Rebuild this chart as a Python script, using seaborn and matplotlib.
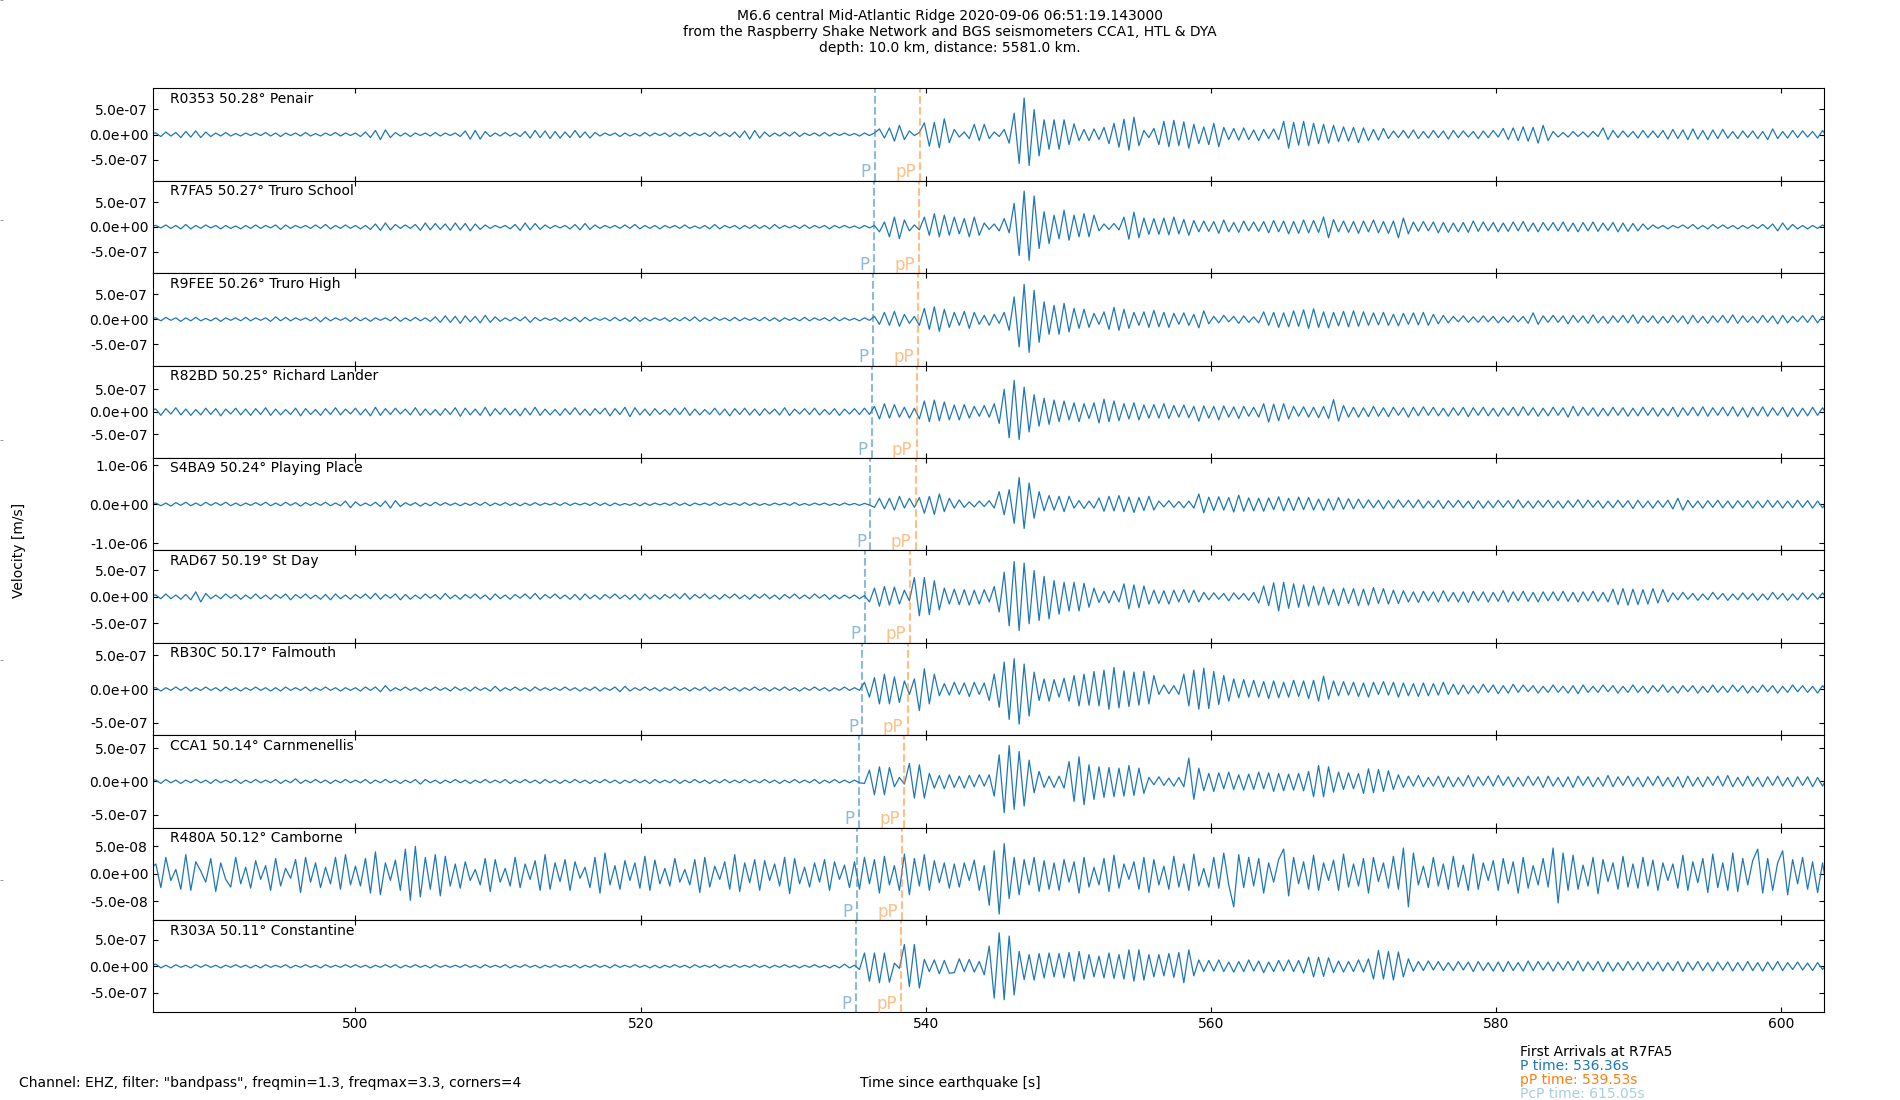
import numpy as np
import pandas as pd
import matplotlib
matplotlib.use("Agg")
import matplotlib.pyplot as plt
import matplotlib.transforms as mtransforms
from matplotlib.ticker import FormatStrFormatter
import seaborn as sns

plt.rcParams['font.family'] = ['DejaVu Sans']

# ---------------- data ----------------
codes = ["R0353", "R7FA5", "R9FEE", "R82BD", "S4BA9", "RAD67", "RB30C", "CCA1", "R480A", "R303A"]
distances = [50.28, 50.27, 50.26, 50.25, 50.24, 50.19, 50.17, 50.14, 50.12, 50.11]
places = ["Penair", "Truro School", "Truro High", "Richard Lander", "Playing Place",
          "St Day", "Falmouth", "Carnmenellis", "Camborne", "Constantine"]
p_times = [536.44, 536.36, 536.28, 536.20, 536.12, 535.72, 535.56, 535.32, 535.16, 535.08]
pp_times = [539.61, 539.53, 539.45, 539.37, 539.29, 538.89, 538.73, 538.49, 538.33, 538.25]
units = [1e-8, 1e-8, 1e-8, 1e-8, 1e-8, 1e-8, 1e-8, 1e-8, 1e-9, 1e-8]
y_limits = [91, 94, 92.5, 103, 118, 87, 68.5, 69.5, 84, 87]
y_tick_steps = [50, 50, 50, 50, 100, 50, 50, 50, 50, 50]
x_ticks = [500, 520, 540, 560, 580, 600]
trace_start = 485.65
sample_interval = 0.35

r0353 = [2, 3,-4,5,-3,4,-6,6,-5,7,-6,5,-4,3,-3,4,-3,2,-3,3,-2,
 3,-2,4,-3,3,-4,3,-2,3,-3,4,-3,2,-3,3,-2,4,-3,3,-2,
 3,-4,5,-6,8,-10,9,-6,4,-3,3,-4,3,-2,3,-3,4,-3,3,-2,
 3,-4,7,-9,8,-9,6,-4,3,-3,4,-3,3,-4,6,-7,8,-6,7,-8,
 6,-7,5,-6,8,-6,5,-7,4,-3,3,-2,3,-4,3,-3,2,-3,4,-3,
 3,-2,3,-4,3,-3,4,-3,3,-2,3,-4,5,-3,3,-4,5,-6,7,-9,
 8,-7,5,-4,3,-3,4,-3,5,-4,3,-2,3,-3,4,-3,3,-2,3,-2,
 2,-3,3,-2,3,11,-7,13,-13,18,-10,7,-2,4,23,-23,24,-26,31,-16,
 10,-5,5,-8,20,-12,20,-8,5,-4,10,-17,42,-57,72,-61,49,-42,29,-29,
 29,-29,29,-20,21,-12,10,-12,11,-10,14,-18,22,-25,30,-31,34,-22,8,-6,
 12,-20,26,-24,28,-22,25,-27,20,-18,15,-20,22,-24,14,-10,12,-11,13,-10,
 9,-12,10,-8,11,-10,26,-27,24,-21,26,-22,22,-18,20,-17,18,-14,15,-13,
 14,-16,13,-12,10,-11,12,-8,7,-6,8,-7,9,-8,6,-7,8,-6,7,-9,
 8,-6,7,-5,6,-8,7,-6,8,-5,12,-10,13,-12,15,-13,14,-17,18,-12,
 6,-5,4,-5,6,-4,5,-5,6,-4,13,-10,8,-6,7,-5,6,-7,8,-6,
 7,-6,8,-9,10,-8,9,-10,11,-9,8,-10,9,-8,10,-7,6,-8,7,-6,
 7,-8,6,-10,11,-8,6,-7,8,-6,7,-5,6,-7,8,-6,7,-5,6,-4]

r7fa5 = [2, 3,-2,4,-3,3,-4,5,-4,3,-3,4,-2,3,-4,3,-3,2,-4,3,-3,
 4,-3,3,-2,4,-5,4,-3,3,-2,3,-3,4,-3,5,-4,3,-3,4,-3,
 3,-4,3,-5,6,-7,8,-6,5,-3,4,-3,5,-7,8,-6,7,-5,6,-7,
 8,-6,7,-8,6,-5,4,-3,3,-2,3,-4,5,-7,8,-6,7,-5,4,-3,
 3,-2,3,-4,5,-6,7,-5,4,-3,3,-2,3,-3,4,-3,5,-4,3,-3,
 3,-4,3,-2,3,-3,4,-3,2,-3,3,-4,5,-4,3,-2,3,-4,3,-3,
 4,-3,3,-4,5,-3,3,-2,3,-3,4,-3,3,-2,3,-4,3,-2,3,-2,
 2,-3,3,-2,3,-10,10,-20,20,-24,14,-8,4,-6,20,-17,27,-20,24,-17,
 20,-14,17,-20,20,-17,8,-5,6,-8,17,-12,48,-58,73,-68,63,-44,31,-34,
 24,-24,34,-27,24,-20,27,-20,24,-8,6,-5,7,-6,20,-25,30,-22,18,-15,
 17,-15,18,-16,20,-14,15,-17,13,-10,12,-9,11,-13,14,-10,9,-11,12,-8,
 10,-9,11,-12,13,-10,12,-14,11,-13,14,-12,13,-11,20,-22,15,-10,12,-11,
 11,-13,12,-10,14,-12,11,-13,12,-22,18,-14,10,-9,11,-8,10,-12,9,-11,
 8,-10,9,-11,12,-9,10,-8,9,-10,8,-9,10,-8,11,-9,8,-10,9,-7,
 9,-8,10,-9,8,-10,9,-8,10,-9,8,-7,9,-10,8,-9,7,-8,6,-5,
 4,-3,3,-4,3,-2,4,-3,5,-4,3,-4,5,-3,4,-3,3,-4,3,-3,
 4,-3,5,-4,6,-8,8,-6,5,-4,3,-4,3,-3,4,-3,3,-2,3,-3]

r9fee = [2, 3,-3,4,-2,3,-4,3,-3,4,-3,2,-3,3,-4,3,-2,3,-3,4,-3,
 3,-2,3,-4,5,-3,4,-3,3,-2,3,-3,4,-5,4,-3,3,-2,3,-4,
 4,-3,3,-4,3,-2,3,-3,5,-4,3,-3,4,-3,3,-4,5,-6,7,-6,
 6,-8,7,-5,6,-7,8,-6,5,-4,3,-3,4,-3,5,-6,4,-3,3,-2,
 3,-4,3,-3,4,-5,4,-3,3,-2,3,-3,4,-3,3,-4,5,-4,3,-3,
 3,-2,3,-4,3,-3,4,-3,5,-4,3,-3,4,-2,3,-3,4,-3,3,-2,
 3,-3,4,-3,3,-4,3,-2,3,-3,4,-3,3,-2,3,-3,4,-3,3,-2,
 2,-3,3,-2,6,-10,14,-12,16,-14,10,-8,6,-12,22,-20,25,-24,20,-16,
 14,-12,16,-18,14,-10,8,-12,10,-8,14,-22,45,-55,70,-66,58,-46,35,-30,
 28,-30,32,-25,22,-18,20,-16,12,-10,15,-20,24,-22,20,-18,14,-12,15,-16,
 18,-15,14,-16,12,-10,13,-12,10,-17,17,-9,6,-7,8,-5,6,-8,7,-6,
 5,-7,15,-12,14,-16,13,-15,17,-14,19,-18,21,-16,15,-17,14,-13,16,-15,
 17,-14,15,-12,13,-11,14,-12,10,-13,12,-10,13,-11,14,-12,10,-9,8,-7,
 6,-5,7,-6,5,-6,7,-5,6,-7,5,-6,7,-5,6,-8,13,-10,7,-6,
 8,-6,7,-9,8,-6,7,-8,9,-7,6,-8,7,-6,8,-7,9,-8,7,-6,
 7,-8,6,-7,8,-6,7,-9,8,-7,6,-8,7,-6,8,-7,9,-8,7,-6,
 6,-7,8,-6,7,-9,8,-7,6,-5,7,-6,8,-7,6,-5,7,-6,5,-4]

r82bd = [5, 6,-8,7,-5,9,-7,6,-8,5,-7,8,-6,7,-9,6,-5,8,-7,6,-8,
 7,-6,9,-8,6,-7,5,-6,8,-9,7,-6,5,-8,7,-6,9,-7,6,-5,
 8,-7,6,-9,10,-8,7,-6,8,-5,6,-7,9,-8,6,-7,5,-8,7,-6,
 9,-10,8,-7,6,-8,10,-9,7,-6,8,-7,6,-9,8,-7,10,-8,6,-7,
 5,-8,7,-6,9,-7,6,-8,7,-5,8,-9,7,-6,10,-11,9,-7,6,-8,
 7,-6,5,-7,8,-6,9,-8,6,-7,5,-6,8,-7,6,-9,7,-6,8,-7,
 6,-8,7,-5,6,-7,9,-8,6,-5,7,-6,8,-7,5,-6,7,-8,6,-5,
 7,-6,8,-6,12,-16,18,-14,16,-12,10,-14,8,-16,24,-22,26,-20,22,-18,
 15,-18,16,-14,12,-10,14,-12,18,-26,50,-58,70,-62,55,-45,38,-32,30,-28,
 26,-22,24,-18,20,-22,18,-15,20,-25,28,-22,24,-20,18,-16,20,-18,15,-14,
 16,-14,18,-15,14,-12,15,-13,12,-21,13,-14,12,-18,13,-12,11,-15,12,-10,
 10,-12,18,-23,17,-20,18,-16,12,-10,11,-12,10,-13,12,-15,27,-21,14,-12,
 10,-12,9,-11,12,-10,9,-11,10,-8,9,-12,10,-9,11,-8,10,-9,8,-10,
 9,-8,10,-11,9,-8,10,-9,8,-10,9,-8,10,-9,11,-8,9,-10,8,-9,
 10,-8,9,-12,12,-9,10,-8,9,-10,8,-9,10,-8,9,-10,8,-9,10,-8,
 9,-10,8,-9,10,-11,9,-8,10,-9,11,-10,9,-8,10,-9,11,-10,9,-12,
 10,-9,11,-10,9,-8,10,-11,9,-10,8,-9,10,-8,9,-10,8,-9,7,-8]

s4ba9 = [2, 3,-4,3,-5,4,-3,5,-4,3,-4,5,-3,4,-3,5,-4,3,-4,3,-3,
 4,-3,5,-4,3,-4,5,-3,4,-5,4,-3,4,-3,5,-4,3,-4,8,-9,
 6,-4,3,-4,5,-6,8,-10,9,-6,4,-3,4,-5,3,-4,5,-3,4,-3,
 3,-4,3,-3,4,-3,5,-4,3,-3,4,-3,3,-4,3,-3,4,-3,3,-2,
 3,-3,4,-3,3,-2,3,-3,4,-3,3,-4,3,-3,2,-3,3,-4,3,-3,
 3,-2,3,-3,4,-3,3,-4,3,-2,3,-3,4,-3,3,-2,3,-3,4,-3,
 3,-3,2,-3,3,-2,3,-3,4,-3,2,-3,3,-2,3,-3,2,-3,3,-2,
 2,-3,2,-2,-8,15,-12,15,-15,20,-10,15,-8,17,-23,20,-26,26,-19,15,
 -10,11,-8,6,-7,8,-6,9,-10,32,-27,37,-49,68,-62,54,-36,32,-17,22,
 -15,20,-19,20,-10,9,-11,8,-10,16,-18,20,-17,22,-19,18,-21,17,-16,20,
 -15,8,-7,9,-8,7,-9,8,-10,26,-22,18,-16,19,-15,17,-20,23,-18,16,
 -17,15,-18,16,-14,19,-17,15,-16,18,-14,17,-15,13,-16,14,-15,17,-13,14,
 -12,13,-10,11,-9,10,-12,9,-10,11,-8,10,-9,11,-10,8,-9,10,-11,9,
 -8,10,-9,8,-11,9,-10,8,-9,10,-8,9,-10,11,-9,8,-10,9,-8,10,
 -9,8,-10,9,-8,11,-9,10,-8,9,-10,8,-9,10,-8,9,-11,10,-9,8,
 -10,9,-8,10,-12,15,-15,10,-9,8,-10,9,-8,10,-9,8,-10,9,-8,9,
 -10,8,-9,10,-8,9,-10,8,-9,10,-8,9,-10,8,-9,8,-7,8,-6,7]

rad67 = [3, 3,-4,5,-4,3,-5,4,-6,9,-10,6,-4,3,-4,5,-3,4,-5,3,-4,
 5,-4,3,-5,4,-3,5,-6,4,-3,5,-4,3,-5,4,-6,5,-4,3,-5,
 4,-3,5,-4,6,-5,4,-3,5,-6,4,-5,3,-4,5,-3,4,-5,6,-4,
 3,-5,4,-3,5,-4,3,-6,5,-4,3,-5,4,-3,5,-4,6,-5,4,-3,
 5,-4,3,-5,4,-6,5,-4,3,-5,4,-3,5,-4,3,-5,4,-6,5,-4,
 3,-5,4,-3,5,-4,6,-5,4,-3,5,-4,3,-5,4,-3,5,-4,3,-5,
 4,-3,5,-4,3,-5,4,-3,5,-4,3,-4,5,-3,4,-5,3,-4,3,-3,
 3,-4,2,-10,16,-18,19,-16,18,-14,12,-8,36,-36,36,-34,30,-25,16,-14,
 14,-15,13,-16,12,-14,13,-10,19,-29,46,-55,66,-64,63,-51,49,-45,38,-42,
 30,-33,27,-27,27,-27,25,-20,16,-11,10,-12,11,-10,24,-23,22,-21,20,-14,
 12,-13,11,-14,12,-10,13,-11,12,-10,8,-6,7,-5,6,-8,7,-5,6,-7,
 8,-12,20,-17,26,-27,27,-22,24,-20,22,-18,20,-16,18,-15,14,-17,16,-13,
 15,-17,14,-16,17,-13,15,-14,12,-13,11,-10,9,-11,10,-8,9,-10,11,-9,
 8,-10,9,-11,10,-8,9,-10,8,-9,11,-10,9,-8,10,-9,8,-10,9,-8,
 9,-8,10,-9,8,-10,9,-8,10,-9,8,-10,14,-15,15,-16,14,-15,13,-14,
 15,-12,13,-10,7,-6,8,-5,6,-7,5,-6,8,-5,6,-7,5,-6,7,-5,
 6,-7,5,-6,8,-5,6,-7,5,-6,7,-5,6,-5,7,-6,5,-6,5,-4]

rb30c = [2, 2,-3,2,-2,3,-2,3,-3,2,-2,3,-2,2,-3,3,-2,2,-3,2,-2,
 3,-2,2,-3,2,-3,3,-2,2,-2,3,-3,2,-2,3,-2,2,-3,2,-2,
 2,-3,3,-2,3,-4,5,-3,2,-2,3,-2,2,-3,2,-2,3,-2,2,-3,
 3,-2,2,-3,3,-2,2,-3,4,-3,2,-2,3,-2,2,-3,3,-2,2,-2,
 2,-2,3,-2,2,-3,2,-2,3,-3,2,-2,3,-4,4,-3,2,-2,3,-2,
 2,-3,2,-2,3,-2,2,-3,2,-2,3,-3,2,-2,3,-2,2,-3,2,-2,
 3,-2,2,-3,2,-2,3,-2,2,-3,2,-2,3,-2,2,-3,2,-2,3,-2,
 2,-2,10,-12,17,-22,22,-22,18,-20,12,-8,15,-32,30,-22,22,-10,8,-9,
 10,-8,9,-11,10,-8,9,-17,22,-27,40,-45,45,-52,37,-40,25,-17,15,-18,
 14,-12,16,-18,20,-25,22,-24,26,-25,28,-30,32,-28,27,-26,25,-24,26,-22,
 20,-8,6,-7,5,-8,22,-25,28,-30,31,-29,26,-23,20,-18,15,-13,14,-12,
 13,-12,11,-14,12,-13,10,-12,13,-11,12,-14,13,-18,19,-15,12,-10,11,-9,
 10,-11,9,-12,10,-8,11,-9,10,-12,9,-10,8,-11,9,-10,8,-9,10,-8,
 7,-8,6,-7,5,-6,7,-5,6,-7,5,-6,7,-5,6,-4,5,-6,4,-5,
 6,-5,4,-6,5,-7,6,-5,4,-5,6,-4,5,-6,4,-5,6,-5,4,-6,
 5,-4,6,-5,4,-6,5,-4,5,-6,4,-5,6,-5,4,-5,6,-4,5,-6,
 4,-5,6,-4,5,-6,4,-5,6,-4,5,-5,4,-6,5,-4,5,-4,3,-4]

cca1 = [3, 2,-3,3,-2,2,-3,2,-2,3,-2,2,-3,3,-2,2,-2,3,-3,2,-2,
 3,-2,2,-2,3,-3,2,-2,4,-3,2,-2,3,-2,2,-3,2,-2,3,-2,
 2,-2,3,-3,2,-2,3,-2,2,-3,2,-2,3,-4,3,-2,2,-3,2,-2,
 3,-2,2,-3,2,-2,3,-2,2,-2,3,-3,2,-2,3,-2,2,-3,3,-2,
 2,-3,2,-2,3,-2,2,-3,2,-2,3,-2,2,-3,2,-2,3,-2,2,-3,
 3,-2,2,-2,3,-3,2,-2,3,-2,2,-3,2,-2,3,-2,2,-2,3,-2,
 2,-2,3,-2,2,-3,2,-2,3,-2,2,-2,3,-3,2,-2,3,-2,2,-2,
 2,-2,-3,17,-20,22,-20,21,-8,6,-4,27,-25,25,-25,12,-10,9,-11,10,
 -9,8,-10,9,-8,10,-7,10,-22,40,-47,54,-42,45,-37,32,-17,15,-9,8,
 -9,8,-10,30,-30,37,-35,25,-27,22,-24,21,-23,20,-22,24,-21,20,-18,6,
 -5,7,-6,5,-7,6,-8,35,-27,20,-14,12,-15,13,-11,14,-12,10,-13,11,
 -12,14,-11,13,-15,12,-14,11,-13,12,-14,15,-23,24,-23,22,-16,14,-12,13,
 -11,12,-18,19,-17,18,-15,16,-12,10,-9,8,-7,9,-8,6,-7,8,-9,7,
 -8,6,-7,9,-8,7,-6,8,-7,9,-6,7,-8,6,-7,8,-6,7,-9,8,
 -7,6,-8,7,-9,8,-6,7,-8,6,-7,9,-8,7,-6,8,-7,6,-8,7,
 -6,8,-7,6,-8,7,-9,8,-7,6,-8,7,-6,8,-7,9,-8,6,-7,8,
 -7,6,-8,7,-6,8,-7,6,-8,7,-6,7,-8,6,-7,6,-5,7,-6,5]

r480a = [10, 18,-25,30,-12,8,-28,35,-30,22,5,-15,28,-32,20,-10,-24,30,-18,12,-26,
 24,-10,15,-30,28,-22,10,-8,26,-34,30,-15,20,-25,12,-18,30,-28,35,-20,
 14,-22,28,-35,40,-38,20,-12,25,-30,45,-48,50,-42,30,-28,35,-40,32,-22,
 18,-26,22,-12,8,-20,28,-32,26,-15,10,-22,30,-25,18,-10,24,-30,35,-28,
 20,-14,26,-30,22,-8,12,-25,30,-35,38,-20,15,-28,24,-12,20,-26,32,-30,
 25,-18,10,-22,28,-15,8,-20,26,-34,30,-24,14,-10,22,-28,35,-32,20,-16,
 26,-30,24,-12,18,-22,30,-36,28,-18,12,-24,20,-15,26,-30,22,-10,16,-25,
 22,-28,30,-18,26,-35,32,-20,15,-30,36,-38,28,-22,35,-30,24,-16,20,-26,
 18,-24,20,-12,25,-30,15,-57,42,-73,55,-45,30,-38,26,-20,30,-32,24,-28,
 20,-30,26,-15,22,-35,30,-24,12,-20,28,-32,34,-26,18,-10,22,-28,30,-34,
 26,-20,14,-28,32,-24,18,-30,36,-22,10,-24,30,-26,38,-20,-60,35,-25,30,
 -22,28,-35,20,-15,26,45,-40,30,-18,22,-28,34,-30,20,-12,25,-30,36,-24,
 18,-22,28,-35,30,-14,20,-26,32,-28,47,-60,38,-20,14,-25,30,-22,18,-28,
 32,-24,16,-30,36,-28,20,-12,24,-30,28,-18,22,-35,30,-26,15,-20,28,-24,
 47,-53,38,-30,34,-28,16,-22,30,-36,26,-14,20,-28,32,-24,18,-26,30,-22,
 25,-30,20,-12,18,-26,34,-30,22,-16,28,-34,36,-25,20,-30,38,-32,28,-20,
 24,45,-35,28,-30,20,42,-38,26,-18,30,-28,22,-34,20,-36,25,-20,18,-22]

r303a = [2, 4,-3,2,-3,3,-2,2,-3,3,-2,3,-2,2,-3,2,-2,3,-2,2,-3,
 2,-3,3,-2,2,-2,3,-3,2,-2,3,-2,2,-3,3,-2,2,-2,3,-2,
 3,-2,2,-3,2,-2,3,-2,3,-3,2,-2,3,-2,2,-3,3,-2,2,-2,
 2,-2,3,-2,2,-3,3,-2,2,-2,3,-3,2,-2,3,-2,2,-3,2,-2,
 3,-2,2,-2,3,-3,2,-2,3,-2,2,-3,3,-2,2,-2,3,-2,2,-3,
 2,-3,2,-2,3,-2,2,-3,3,-2,2,-2,3,-3,2,-2,3,-2,2,-2,
 3,-2,2,-3,2,-2,3,-2,2,-3,2,-2,3,-2,2,-3,2,-3,4,-3,
 2,-6,25,-28,25,-31,25,-30,6,-4,41,-38,41,-41,13,-10,12,-14,11,-13,
 -12,14,-10,13,-11,9,-16,38,-60,63,-63,57,-54,28,-25,22,-26,24,-22,25,
 -20,24,-22,26,-28,28,-24,22,-20,19,-22,25,-23,22,-24,31,-28,31,-26,22,
 -20,22,-18,24,-21,26,-31,31,-18,12,-10,11,-9,12,-10,8,-11,9,-10,12,
 -9,10,-12,8,-10,11,-9,12,-10,11,-13,17,-20,17,-19,16,-12,10,-11,9,
 -10,12,-11,14,-24,30,-24,28,-26,27,-20,14,-10,9,-8,10,-7,9,-8,7,
 -8,9,-7,8,-10,9,-8,7,-9,8,-10,9,-8,7,-9,10,-8,9,-7,8,
 -9,8,-7,9,-8,10,-9,8,-7,9,-10,8,-9,7,-8,9,-7,8,-9,8,
 -7,8,-9,7,-8,9,-10,8,-7,9,-8,7,-9,8,-7,8,-9,7,-8,9,
 -8,7,-9,8,-7,9,-8,7,-6,8,-7,6,-8,7,-6,7,-5,6,-5,4]

traces = [r0353, r7fa5, r9fee, r82bd, s4ba9, rad67, rb30c, cca1, r480a, r303a]

title_lines = ["M6.6 central Mid-Atlantic Ridge 2020-09-06 06:51:19.143000",
               "from the Raspberry Shake Network and BGS seismometers CCA1, HTL & DYA",
               "depth: 10.0 km, distance: 5581.0 km."]
arrival_lines = ["First Arrivals at R7FA5", "P time: 536.36s", "pP time: 539.53s", "PcP time: 615.05s"]
arrival_colors = ["black", "#1f77b4", "#ff7f0e", "#a6cee3"]
footer_left = 'Channel: EHZ, filter: "bandpass", freqmin=1.3, freqmax=3.3, corners=4'
x_label = "Time since earthquake [s]"
y_label = "Velocity [m/s]"
x_limits = (485.8, 603.0)

# ---------------- figure ----------------
W, H = 1900, 1100
fig = plt.figure(figsize=(W / 100, H / 100), dpi=100)

# faint full-figure frame ticks at left edge
bg = fig.add_axes([0, 0, 1, 1], frameon=False, zorder=-5)
bg.set_xticks([])
bg.set_yticks([0, 0.2, 0.4, 0.6, 0.8, 1.0])
bg.set_ylim(0, 1)
bg.tick_params(axis='y', direction='in', length=2, width=0.6, colors='0.55', labelleft=False)

gs = fig.add_gridspec(10, 1, left=153 / W, right=1824 / W, top=1 - 88.3 / H,
                      bottom=1 - 1012.5 / H, hspace=0)

for i, vals in enumerate(traces):
    ax = fig.add_subplot(gs[i])
    u = units[i]
    t = trace_start + sample_interval * np.arange(len(vals))
    df = pd.DataFrame({"t": t, "v": np.asarray(vals, dtype=float) * u})
    sns.lineplot(data=df, x="t", y="v", ax=ax, color="#1f77b4", linewidth=0.9,
                 estimator=None, sort=False)
    ax.set_xlabel("")
    ax.set_ylabel("")
    ax.set_xlim(*x_limits)
    ax.set_ylim(-y_limits[i] * u, y_limits[i] * u)
    step = y_tick_steps[i] * u
    ax.set_yticks([-step, 0, step])
    ax.yaxis.set_major_formatter(FormatStrFormatter('%.1e'))
    ax.set_xticks(x_ticks)
    ax.tick_params(direction='in', top=True, right=True, labelsize=10)
    if i < len(traces) - 1:
        ax.tick_params(labelbottom=False)

    ax.axvline(p_times[i], color="#1f77b4", alpha=0.5, linestyle="--", linewidth=1.5)
    ax.axvline(pp_times[i], color="#ff7f0e", alpha=0.5, linestyle="--", linewidth=1.5)
    trans = mtransforms.blended_transform_factory(ax.transData, ax.transAxes)
    ax.annotate("P", xy=(p_times[i], 0.036), xycoords=trans, xytext=(-3, 0),
                textcoords="offset points", ha="right", va="baseline",
                color="#1f77b4", alpha=0.5, fontsize=12)
    ax.annotate("pP", xy=(pp_times[i], 0.036), xycoords=trans, xytext=(-3, 0),
                textcoords="offset points", ha="right", va="baseline",
                color="#ff7f0e", alpha=0.5, fontsize=12)
    ax.text(0.0102, 0.962, f"{codes[i]} {distances[i]:.2f}° {places[i]}",
            transform=ax.transAxes, ha="left", va="top", fontsize=10)

fig.text(0.5, 1 - 9 / H, "\n".join(title_lines), ha="center", va="top", fontsize=10)
fig.text(12 / W, 0.5, y_label, rotation=90, ha="left", va="center", fontsize=10)
fig.text(19 / W, 13.3 / H, footer_left, ha="left", va="baseline", fontsize=10)
fig.text(0.5, 13.3 / H, x_label, ha="center", va="baseline", fontsize=10)
arrival_y = [44 / H, 30 / H, 16 / H, 2 / H]
for txt, col, yy in zip(arrival_lines, arrival_colors, arrival_y):
    fig.text(1519.5 / W, yy, txt, color=col, ha="left", va="baseline", fontsize=10)

fig.savefig("out.png", dpi=100)
